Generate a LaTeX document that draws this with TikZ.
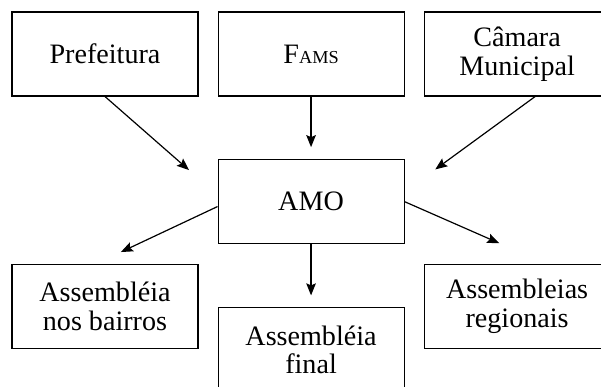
\documentclass[tikz,border=0pt]{standalone}
\usepackage{fontspec}
\setmainfont{Liberation Serif}
\usetikzlibrary{arrows.meta,positioning}
\tikzset{
  blk/.style={draw, rectangle, minimum height=2.1cm, minimum width=4.65cm, align=center, font=\fontsize{20}{20.5}\selectfont, line width=0.75pt, inner sep=0pt},
  arr/.style={-{Stealth[length=3mm, width=2.4mm, inset=0.5mm]}, line width=0.85pt},
}

\begin{document}
\begin{tikzpicture}[node distance=0.475cm]

\useasboundingbox (0,0) rectangle (15.025,-9.675);
\clip (0,0) rectangle (15.025,-9.675);

\node[blk] (pref) at (2.625,-1.35) {Prefeitura};
\node[blk, right=of pref] (fams) {F{\fontsize{13}{13}\selectfont AMS}};
\node[blk, right=of fams] (camara) {Câmara\\Municipal};

\node[blk, below=1.565cm of fams] (amo) {AMO};

\node[blk, below=4.19cm of pref] (bairros) {Assembléia\\nos bairros};
\node[blk, below=1.58cm of amo] (final) {Assembléia\\final};
\node[blk, below=4.19cm of camara] (regionais) {Assembleias\\regionais};

\draw[arr, shorten >=0.95cm] (pref.south) -- (amo.176);
\draw[arr, shorten >=0.3cm] (fams) -- (amo);
\draw[arr, shorten >=0.95cm] (camara.-67) -- (amo.6);
\draw[arr, shorten >=0.71cm] (amo.183) -- (bairros.103);
\draw[arr, shorten >=0.3cm] (amo) -- (final);
\draw[arr, shorten >=1.3cm] (amo.east) -- (regionais.55);

\end{tikzpicture}
\end{document}
